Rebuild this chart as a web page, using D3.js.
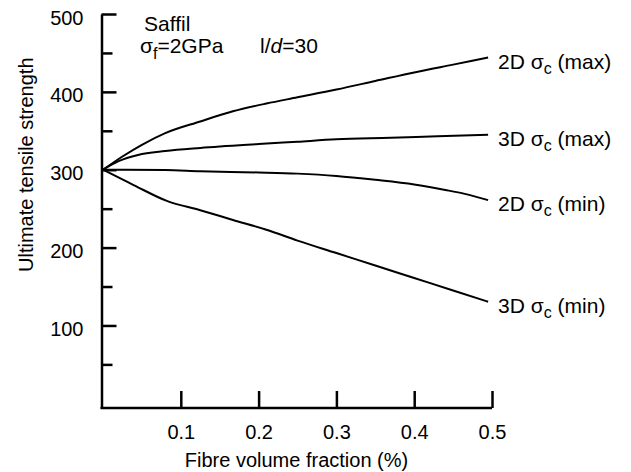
<!DOCTYPE html>
<html>
<head>
<meta charset="utf-8">
<script src="https://cdn.jsdelivr.net/npm/d3@7"></script>
<style>
  body { margin: 0; background: #fff; }
  svg text { font-family: "Liberation Sans", Arial, sans-serif; fill: #000; }
</style>
</head>
<body>
<svg id="chart" width="631" height="472"></svg>
<script>
// fibre volume fraction (%), one list per curve
var max2dX = [0, 0.025, 0.05, 0.08, 0.125, 0.167, 0.21, 0.25, 0.3, 0.35, 0.4, 0.45, 0.495];
var max2dY = [300, 317, 332, 347, 362, 375, 385, 393, 403, 414, 425, 435, 444];

var max3dX = [0, 0.02, 0.045, 0.08, 0.125, 0.2, 0.25, 0.3, 0.37, 0.43, 0.495];
var max3dY = [300, 311, 319, 324, 328, 333, 336, 339, 341, 343, 345];

var min2dX = [0, 0.08, 0.125, 0.2, 0.25, 0.3, 0.35, 0.4, 0.44, 0.465, 0.495];
var min2dY = [300, 299.5, 298, 296.5, 295, 292, 287, 281, 274, 269, 261];

var min3dX = [0, 0.04, 0.082, 0.125, 0.167, 0.21, 0.25, 0.3, 0.35, 0.4, 0.45, 0.495];
var min3dY = [300, 280, 260, 248, 235.5, 223, 209, 193, 177, 161, 145, 130.5];

var seriesNames = ['2D', '3D', '2D', '3D'];
var seriesKinds = ['max', 'max', 'min', 'min'];

var xTicks = [0.1, 0.2, 0.3, 0.4, 0.5];
var yMajor = [100, 200, 300, 400, 500];
var yMinor = [50, 150, 250, 350, 450];

var svg = d3.select('#chart');

var x = d3.scaleLinear().domain([0, 0.5]).range([103, 492]);
var y = d3.scaleLinear().domain([-6, 500]).range([408, 14]);

// y axis, ticks pointing inwards
var yAxis = svg.append('g')
    .attr('transform', 'translate(101.5,0)')
    .call(d3.axisLeft(y).tickValues(yMajor).tickSize(-15).tickSizeOuter(0).tickPadding(18));
yAxis.selectAll('text').attr('dy', '0.5em').style('font-size', '20px');

svg.append('g')
    .attr('transform', 'translate(101.5,0)')
    .call(d3.axisLeft(y).tickValues(yMinor).tickSize(-11).tickSizeOuter(0).tickFormat(''))
    .select('.domain').remove();

var xAxis = svg.append('g')
    .attr('transform', 'translate(0,' + y(-6) + ')')
    .call(d3.axisBottom(x).tickValues(xTicks).tickSize(-17).tickSizeOuter(0).tickPadding(17)
        .tickFormat(d3.format('.1f')));
xAxis.selectAll('text').style('font-size', '20px');
xAxis.select('.domain').attr('d', 'M' + (x(0) - 2.5) + ',0H' + x(0.5));

svg.selectAll('.domain, .tick line')
    .attr('stroke', '#000')
    .attr('stroke-width', 2.5);

// axis titles
svg.append('text')
    .attr('transform', 'translate(33,' + (y(300) - 5) + ') rotate(-90)')
    .attr('text-anchor', 'middle')
    .style('font-size', '20px')
    .text('Ultimate tensile strength');

svg.append('text')
    .attr('x', x(0.25) - 1)
    .attr('y', 467)
    .attr('text-anchor', 'middle')
    .style('font-size', '20px')
    .text('Fibre volume fraction (%)');

// curves
var curves = [
    d3.zip(max2dX, max2dY),
    d3.zip(max3dX, max3dY),
    d3.zip(min2dX, min2dY),
    d3.zip(min3dX, min3dY)
];

var line = d3.line()
    .x(function (d) { return x(d[0]); })
    .y(function (d) { return y(d[1]); })
    .curve(d3.curveMonotoneX);

svg.selectAll('path.curve')
    .data(curves)
    .enter()
    .append('path')
    .attr('class', 'curve')
    .attr('d', line)
    .attr('fill', 'none')
    .attr('stroke', '#000')
    .attr('stroke-width', 2);

// end labels
var labels = svg.selectAll('text.label')
    .data(curves)
    .enter()
    .append('text')
    .attr('class', 'label')
    .attr('x', function (d) { return x(d[d.length - 1][0]) + 10; })
    .attr('y', function (d) { return y(d[d.length - 1][1]) + 11; })
    .style('font-size', '21px');

labels.append('tspan').text(function (d, i) { return seriesNames[i] + ' \u03c3'; });
labels.append('tspan').attr('dy', 5).style('font-size', '16px').text('c');
labels.append('tspan').attr('dy', -5).text(function (d, i) { return ' (' + seriesKinds[i] + ')'; });

// annotation top left
svg.append('text')
    .attr('x', 144).attr('y', 31)
    .style('font-size', '21px')
    .text('Saffil');

var sig = svg.append('text')
    .attr('x', 140).attr('y', 53)
    .style('font-size', '21px');
sig.append('tspan').text('\u03c3');
sig.append('tspan').attr('dy', 6).style('font-size', '16px').text('f');
sig.append('tspan').attr('dy', -6).text('=2GPa');

var ld = svg.append('text')
    .attr('x', 260).attr('y', 53)
    .style('font-size', '21px');
ld.append('tspan').text('l/');
ld.append('tspan').style('font-style', 'italic').text('d');
ld.append('tspan').text('=30');
</script>
</body>
</html>
